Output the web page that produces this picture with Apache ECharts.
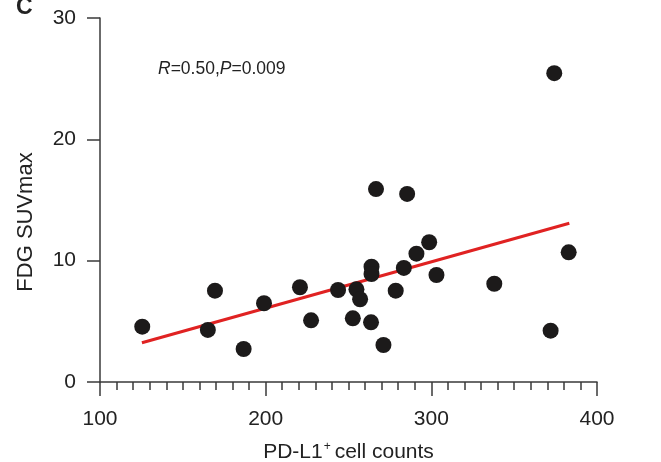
<!DOCTYPE html>
<html><head><meta charset="utf-8">
<script src="https://cdn.jsdelivr.net/npm/echarts@6/dist/echarts.min.js"></script>
<style>html,body{margin:0;padding:0;background:#fff}#c{width:661px;height:462px}</style>
</head><body><div id="c"></div>
<script>
// Data
const pdl1Counts = [125.5,165.1,169.4,186.7,199,220.7,227.4,243.7,252.6,254.8,257,263.6,263.9,263.9,266.6,271.1,278.5,283.4,285.4,291,298.7,303.1,338,372,374.2,382.9];
const suvMax     = [4.56,4.29,7.53,2.72,6.49,7.81,5.08,7.58,5.25,7.64,6.82,4.92,9.5,8.9,15.9,3.05,7.53,9.4,15.5,10.58,11.52,8.82,8.1,4.23,25.45,10.69];
const fitX = [125.3, 383.3];
const fitY = [3.24, 13.08];
const xTicks = [100,200,300,400];
const yTicks = [0,10,20,30];

const font = '"Liberation Sans", Arial, sans-serif';
const axisCol = '#3a3a3a';
const txtCol = '#222';
const chart = echarts.init(document.getElementById('c'), null, {renderer:'canvas'});
chart.setOption({
  animation:false,
  grid:{left:100,right:64,top:18,bottom:80,containLabel:false,outerBoundsMode:'none'},
  xAxis:{type:'value',min:xTicks[0],max:xTicks[xTicks.length-1],interval:100,
    name:'PD-L1{sup|+}cell counts',nameLocation:'middle',nameGap:59,
    nameTextStyle:{fontFamily:font,fontSize:21,color:txtCol,rich:{sup:{fontSize:12,verticalAlign:'top',padding:[0,4,10,1],fontFamily:font,color:txtCol}}},
    axisLine:{lineStyle:{color:axisCol,width:1.5}},
    axisTick:{inside:false,length:14,lineStyle:{color:axisCol,width:1.5}},
    minorTick:{show:true,splitNumber:10,length:8,lineStyle:{color:axisCol,width:1.5}},
    axisLabel:{margin:27,fontFamily:font,fontSize:21,color:txtCol},
    splitLine:{show:false}},
  yAxis:{type:'value',min:yTicks[0],max:yTicks[yTicks.length-1],interval:10,
    axisLine:{show:true,lineStyle:{color:axisCol,width:1.5}},
    axisTick:{show:true,inside:false,length:13,lineStyle:{color:axisCol,width:1.5}},
    axisLabel:{margin:24,fontFamily:font,fontSize:21,color:txtCol},
    splitLine:{show:false}},
  graphic:[
    {type:'text',left:16,top:-4,style:{text:'C',font:'bold 23px '+font,fill:txtCol}},
    {type:'text',x:26,y:222,rotation:Math.PI/2,style:{text:'FDG SUVmax',font:'22px '+font,fill:txtCol,align:'center',verticalAlign:'middle'}},
    {type:'text',left:158,top:60,style:{text:'{i|R}=0.50,{i|P}=0.009',font:'17.5px '+font,fill:txtCol,
      rich:{i:{fontStyle:'italic',fontSize:17.5,fontFamily:font,fill:txtCol,color:txtCol}}}}
  ],
  series:[
    {type:'line',data:fitX.map((x,i)=>[x,fitY[i]]),symbol:'none',lineStyle:{color:'#e02222',width:3},z:2},
    {type:'scatter',data:pdl1Counts.map((x,i)=>[x,suvMax[i]]),symbolSize:16,itemStyle:{color:'#1c1a1a',opacity:1},z:3}
  ]
});
</script></body></html>
